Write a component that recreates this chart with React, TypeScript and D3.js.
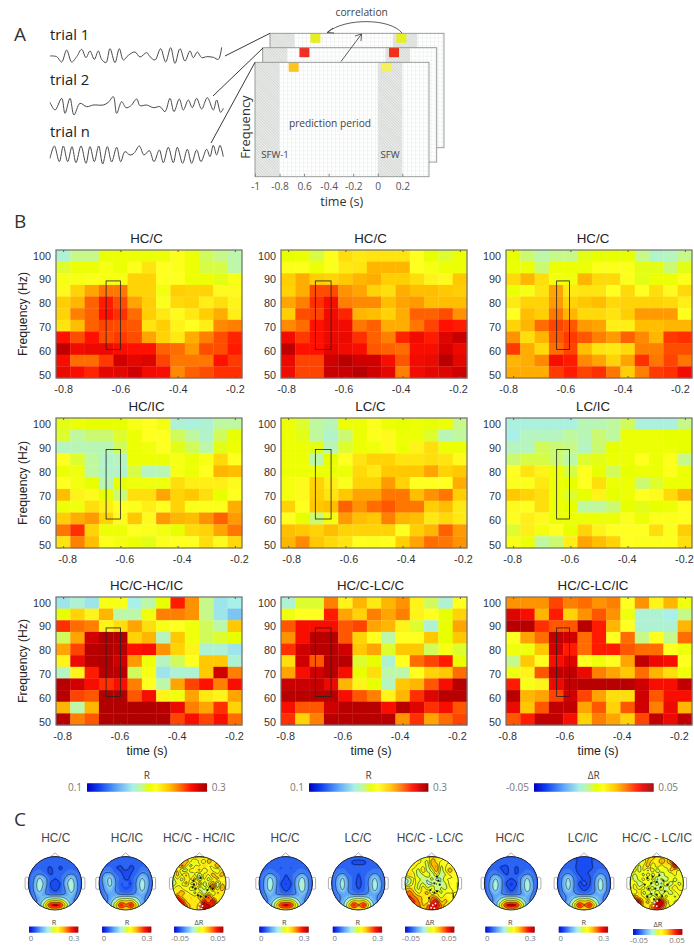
import { useEffect, useRef } from "react"
import * as d3 from "d3"

// time and frequency bins of every heatmap
const timeBins = [-0.8, -0.75, -0.7, -0.65, -0.6, -0.55, -0.5, -0.45, -0.4, -0.35, -0.3, -0.25, -0.2]
const freqBins = [100, 95, 90, 85, 80, 75, 70, 65, 60, 55, 50]
const timeTicks = [-0.8, -0.6, -0.4, -0.2]
const freqTicks = [100, 90, 80, 70, 60, 50]

// R x 1000, top row is 100 Hz
const hcC1 = [
  [180, 192, 192, 206, 206, 206, 206, 206, 214, 206, 196, 192, 188],
  [200, 206, 206, 212, 206, 214, 226, 216, 214, 206, 198, 198, 188],
  [212, 212, 214, 212, 212, 232, 232, 216, 216, 206, 206, 202, 212],
  [218, 232, 244, 254, 254, 232, 232, 210, 234, 232, 232, 218, 218],
  [234, 240, 258, 272, 262, 244, 234, 214, 230, 232, 222, 228, 220],
  [232, 252, 258, 274, 268, 256, 234, 224, 218, 224, 234, 242, 222],
  [226, 238, 258, 264, 262, 260, 226, 234, 220, 216, 222, 250, 252],
  [274, 262, 274, 262, 266, 262, 244, 232, 224, 242, 252, 262, 270],
  [292, 278, 280, 280, 276, 274, 274, 258, 256, 246, 262, 262, 272],
  [276, 256, 256, 266, 288, 282, 284, 264, 254, 254, 254, 274, 266],
  [280, 276, 270, 282, 282, 288, 278, 276, 250, 258, 262, 268, 268],
]
const hcC2 = [
  [204, 206, 198, 214, 228, 224, 226, 226, 226, 216, 204, 200, 206],
  [214, 214, 206, 214, 224, 226, 240, 240, 240, 216, 212, 206, 206],
  [234, 242, 234, 232, 236, 240, 242, 234, 234, 228, 220, 218, 236],
  [232, 242, 262, 262, 248, 244, 232, 228, 242, 238, 238, 236, 234],
  [244, 252, 268, 276, 252, 250, 250, 238, 244, 246, 238, 238, 238],
  [234, 262, 264, 278, 270, 240, 238, 232, 242, 258, 258, 262, 248],
  [250, 256, 274, 280, 278, 254, 258, 242, 242, 254, 264, 274, 272],
  [278, 266, 274, 280, 280, 268, 258, 252, 270, 278, 272, 284, 290],
  [292, 274, 274, 282, 278, 276, 260, 258, 256, 276, 276, 286, 280],
  [280, 264, 264, 288, 294, 288, 288, 276, 260, 278, 280, 294, 282],
  [278, 264, 264, 290, 290, 294, 288, 282, 252, 278, 282, 284, 288],
]
const hcC3 = [
  [204, 194, 188, 192, 192, 202, 204, 204, 204, 192, 182, 184, 192],
  [206, 206, 194, 206, 206, 206, 214, 214, 214, 202, 202, 194, 202],
  [230, 240, 228, 210, 208, 240, 230, 230, 214, 202, 206, 206, 214],
  [206, 212, 226, 244, 224, 226, 226, 216, 230, 216, 228, 218, 230],
  [224, 232, 232, 246, 232, 236, 238, 230, 232, 232, 232, 230, 222],
  [216, 238, 234, 254, 240, 230, 230, 226, 234, 246, 246, 246, 214],
  [232, 240, 256, 264, 260, 246, 244, 222, 222, 238, 238, 240, 240],
  [248, 228, 240, 260, 266, 260, 252, 246, 258, 250, 240, 266, 268],
  [266, 242, 230, 256, 264, 238, 226, 224, 230, 252, 252, 262, 262],
  [240, 242, 250, 276, 272, 250, 244, 232, 244, 268, 254, 264, 254],
  [242, 242, 242, 266, 272, 264, 268, 254, 234, 252, 266, 268, 278],
]
const hcIc = [
  [202, 206, 204, 204, 204, 212, 216, 210, 180, 178, 180, 190, 190],
  [200, 190, 194, 194, 200, 206, 216, 216, 196, 190, 182, 196, 204],
  [184, 186, 186, 186, 196, 206, 208, 216, 202, 196, 188, 202, 206],
  [216, 200, 190, 182, 184, 206, 206, 206, 212, 206, 212, 230, 216],
  [206, 208, 190, 182, 182, 198, 184, 186, 212, 206, 216, 240, 238],
  [216, 210, 204, 186, 204, 208, 208, 208, 228, 222, 222, 222, 218],
  [238, 220, 218, 204, 194, 228, 228, 244, 232, 236, 228, 204, 216],
  [206, 208, 228, 222, 216, 214, 222, 216, 232, 214, 214, 214, 242],
  [234, 242, 246, 232, 218, 236, 218, 246, 240, 238, 248, 258, 246],
  [254, 268, 232, 206, 206, 216, 214, 210, 204, 230, 232, 244, 254],
  [226, 252, 238, 214, 210, 206, 202, 214, 216, 216, 228, 218, 230],
]
const lcC = [
  [206, 200, 190, 186, 206, 206, 214, 206, 204, 206, 204, 206, 192],
  [206, 202, 190, 182, 194, 206, 214, 218, 206, 206, 200, 186, 190],
  [206, 206, 202, 186, 200, 206, 208, 218, 206, 220, 228, 206, 206],
  [206, 206, 188, 204, 216, 226, 232, 232, 226, 226, 228, 226, 218],
  [206, 206, 206, 206, 206, 230, 224, 236, 236, 236, 244, 232, 236],
  [210, 218, 232, 222, 214, 232, 232, 246, 232, 216, 216, 216, 242],
  [210, 218, 234, 226, 236, 244, 244, 254, 254, 238, 248, 254, 234],
  [232, 216, 236, 238, 258, 248, 256, 260, 254, 254, 234, 238, 224],
  [216, 204, 194, 210, 246, 238, 236, 252, 240, 238, 224, 230, 224],
  [238, 236, 232, 238, 232, 232, 232, 232, 216, 234, 240, 258, 246],
  [240, 250, 236, 230, 226, 216, 214, 216, 234, 244, 256, 254, 248],
]
const lcIc = [
  [178, 178, 178, 178, 178, 186, 186, 190, 196, 178, 178, 178, 192],
  [176, 184, 184, 184, 190, 186, 194, 190, 206, 206, 206, 204, 204],
  [184, 184, 196, 194, 192, 184, 194, 204, 206, 206, 206, 206, 204],
  [194, 198, 198, 194, 188, 200, 202, 206, 206, 216, 206, 214, 192],
  [216, 226, 220, 206, 198, 216, 204, 196, 204, 206, 206, 214, 206],
  [214, 214, 224, 206, 204, 216, 228, 206, 206, 194, 200, 206, 206],
  [236, 232, 228, 206, 200, 204, 220, 204, 206, 216, 218, 230, 240],
  [218, 216, 228, 206, 204, 190, 190, 194, 204, 202, 204, 206, 216],
  [214, 222, 218, 206, 206, 206, 206, 206, 214, 206, 214, 214, 216],
  [200, 222, 210, 216, 204, 232, 220, 216, 216, 216, 228, 214, 234],
  [212, 206, 190, 194, 222, 244, 238, 232, 216, 214, 214, 214, 228],
]
// delta R x 1000
const diffHcIc = [
  [-14, -10, -14, 6, 6, -12, -6, 2, 36, 24, -4, -14, -12],
  [2, 16, 10, 20, -6, -6, 4, 26, 26, 24, -4, -14, -20],
  [34, 28, 26, 10, 14, 22, 14, 6, 8, 4, -2, -6, 18],
  [-2, 22, 44, 48, 48, 16, 20, -8, 18, 4, -2, 0, 2],
  [22, 32, 47, 48, 47, 37, 38, 24, 16, 10, -10, -10, -14],
  [10, 40, 47, 48, 44, 23, 4, -8, -2, 8, 18, 18, -10],
  [-8, 10, 36, 47, 47, -2, 6, -14, -10, -10, 18, 44, 26],
  [47, 44, 38, 34, 38, 26, 8, -6, 22, 32, 37, 26, 38],
  [47, 32, 30, 48, 48, 30, 38, 10, 4, 22, 12, 10, 22],
  [20, -6, 20, 48, 48, 48, 48, 47, 40, 26, 22, 34, 16],
  [47, 26, 30, 48, 48, 48, 48, 48, 32, 38, 32, 38, 28],
]
const diffLcC = [
  [-10, 0, 0, 26, 10, 20, 12, 20, 24, 10, -2, -10, 8],
  [4, 8, 8, 36, 22, 16, 26, 22, 26, 10, 8, 2, 16],
  [30, 38, 38, 38, 30, 32, 22, 20, 10, 0, -10, 2, 22],
  [24, 38, 47, 47, 30, 16, 8, -6, 8, 8, 18, 2, 18],
  [34, 44, 47, 47, 44, 18, 22, 0, 18, 18, -2, 6, 0],
  [14, 44, 30, 47, 47, 0, 2, -10, 8, 28, 32, 36, 2],
  [22, 38, 44, 47, 38, 2, 14, -6, -6, 8, 16, 18, 28],
  [45, 45, 45, 40, 20, 10, 2, -8, 18, 20, 30, 38, 47],
  [47, 47, 47, 47, 38, 30, 26, 10, 20, 34, 42, 47, 47],
  [38, 30, 30, 44, 47, 47, 47, 38, 47, 42, 34, 38, 30],
  [34, 16, 26, 47, 47, 47, 47, 47, 24, 34, 22, 28, 32],
]
const diffLcIc = [
  [24, 24, 24, 32, 26, 28, 24, 26, 8, 24, 10, 20, 4],
  [42, 38, 20, 36, 16, 24, 30, 24, 4, -10, -10, -12, -4],
  [47, 47, 34, 30, 30, 47, 36, 20, 8, -10, -10, -10, 20],
  [8, 22, 28, 46, 44, 28, 36, 8, 28, -4, 8, -4, 28],
  [4, 4, 18, 44, 36, 28, 36, 36, 30, 28, 28, 8, 4],
  [-4, 18, 8, 38, 42, 8, 4, 8, 22, 46, 40, 38, 8],
  [4, 10, 30, 46, 46, 40, 26, 22, 18, 28, 20, 14, 4],
  [36, 6, 10, 40, 46, 47, 47, 47, 47, 44, 38, 38, 46],
  [47, 20, 22, 32, 44, 32, 22, 14, 14, 44, 30, 38, 38],
  [40, 18, 30, 46, 46, 22, 30, 16, 30, 44, 26, 40, 20],
  [30, 36, 46, 46, 38, 16, 26, 22, 16, 32, 46, 40, 46],
]

// scalp maps, R x 1000, coarse grid over the head box
const topoA1 = [
  [44, 44, 44, 44, 44, 44, 44, 44, 44, 44, 44],
  [44, 44, 44, 46, 48, 48, 48, 46, 44, 44, 44],
  [44, 46, 48, 44, 34, 46, 32, 48, 48, 46, 44],
  [44, 52, 56, 48, 32, 44, 44, 52, 56, 52, 44],
  [44, 62, 110, 78, 48, 38, 48, 72, 110, 62, 44],
  [40, 70, 132, 90, 34, 28, 36, 90, 136, 70, 40],
  [36, 70, 125, 72, 42, 30, 44, 70, 130, 70, 36],
  [40, 60, 90, 66, 52, 48, 52, 66, 95, 60, 40],
  [44, 56, 72, 105, 150, 160, 150, 105, 72, 56, 44],
  [46, 56, 80, 170, 285, 295, 285, 170, 80, 56, 46],
  [48, 56, 66, 115, 170, 180, 170, 115, 66, 56, 48],
]
const topoA2 = [
  [44, 44, 44, 44, 44, 44, 44, 44, 44, 44, 44],
  [44, 44, 46, 46, 44, 46, 44, 46, 46, 44, 44],
  [44, 48, 52, 38, 34, 46, 32, 44, 52, 48, 44],
  [46, 66, 66, 48, 40, 30, 38, 48, 66, 62, 46],
  [46, 85, 112, 62, 46, 34, 42, 62, 108, 72, 46],
  [44, 78, 118, 68, 36, 46, 34, 72, 128, 78, 44],
  [40, 70, 95, 62, 42, 36, 42, 66, 122, 70, 40],
  [44, 60, 72, 72, 56, 52, 56, 72, 80, 60, 44],
  [46, 56, 72, 112, 160, 165, 160, 112, 72, 56, 46],
  [48, 56, 85, 175, 295, 230, 295, 175, 85, 56, 48],
  [48, 56, 72, 125, 180, 170, 180, 125, 72, 56, 48],
]
const topoB1 = [
  [44, 44, 44, 44, 44, 44, 44, 44, 44, 44, 44],
  [44, 44, 46, 48, 48, 46, 48, 48, 46, 44, 44],
  [44, 46, 48, 46, 36, 46, 36, 48, 48, 46, 44],
  [44, 52, 62, 52, 46, 40, 48, 52, 62, 52, 44],
  [44, 68, 118, 72, 48, 32, 46, 72, 118, 68, 44],
  [42, 72, 132, 78, 34, 28, 34, 85, 136, 72, 42],
  [38, 72, 122, 68, 44, 30, 44, 72, 130, 72, 38],
  [42, 60, 85, 66, 52, 46, 52, 66, 90, 60, 42],
  [44, 56, 72, 102, 150, 160, 150, 102, 72, 56, 44],
  [46, 56, 80, 165, 280, 295, 280, 165, 80, 56, 46],
  [48, 56, 66, 110, 165, 175, 165, 110, 66, 56, 48],
]
const topoB2 = [
  [46, 46, 46, 46, 46, 46, 46, 46, 46, 46, 46],
  [46, 46, 46, 44, 34, 32, 34, 44, 46, 46, 46],
  [46, 48, 48, 46, 44, 46, 44, 46, 48, 48, 46],
  [46, 56, 62, 48, 46, 38, 46, 52, 62, 56, 46],
  [44, 72, 110, 62, 46, 34, 46, 68, 110, 66, 44],
  [42, 78, 122, 68, 44, 32, 44, 72, 128, 78, 42],
  [42, 72, 112, 62, 46, 36, 46, 66, 122, 72, 42],
  [44, 60, 72, 72, 56, 52, 56, 72, 72, 60, 44],
  [46, 56, 72, 112, 155, 165, 155, 112, 72, 56, 46],
  [48, 56, 85, 170, 295, 225, 295, 170, 85, 56, 48],
  [48, 56, 72, 118, 175, 165, 175, 118, 72, 56, 48],
]
const topoC1 = [
  [40, 40, 40, 40, 40, 40, 40, 40, 40, 40, 40],
  [40, 40, 44, 46, 44, 46, 46, 46, 44, 40, 40],
  [40, 46, 48, 36, 32, 46, 34, 48, 48, 46, 40],
  [40, 52, 56, 46, 32, 46, 34, 48, 56, 52, 40],
  [40, 62, 105, 72, 46, 38, 46, 72, 110, 62, 40],
  [38, 72, 128, 78, 34, 26, 34, 78, 132, 72, 38],
  [36, 72, 122, 72, 46, 30, 46, 72, 128, 72, 36],
  [40, 60, 78, 66, 52, 46, 52, 66, 85, 60, 40],
  [44, 56, 72, 108, 155, 165, 155, 108, 72, 56, 44],
  [46, 56, 78, 175, 290, 295, 290, 175, 78, 56, 46],
  [48, 56, 66, 118, 175, 185, 175, 118, 66, 56, 48],
]
const topoC2 = [
  [38, 38, 38, 38, 38, 38, 38, 38, 38, 38, 38],
  [38, 40, 44, 44, 34, 28, 34, 44, 44, 40, 38],
  [38, 46, 48, 44, 28, 42, 28, 46, 48, 46, 38],
  [40, 56, 62, 48, 34, 28, 44, 48, 62, 56, 40],
  [40, 72, 110, 62, 44, 34, 32, 62, 110, 66, 40],
  [38, 78, 122, 68, 32, 44, 32, 68, 128, 72, 38],
  [36, 72, 112, 62, 42, 30, 42, 62, 122, 72, 36],
  [40, 60, 72, 72, 56, 52, 56, 72, 78, 60, 40],
  [44, 56, 72, 112, 155, 165, 155, 112, 72, 56, 44],
  [46, 56, 85, 170, 295, 225, 295, 170, 85, 56, 46],
  [48, 56, 72, 118, 175, 165, 175, 118, 72, 56, 48],
]
const topoDiffA = [
  [8, 8, 8, 8, 8, 20, 12, 20, 8, 8, 8, 8, 8],
  [8, 8, 8, 24, 10, -6, 14, -4, 26, 12, 8, 8, 8],
  [8, 8, 34, 10, -8, 12, 4, 22, 6, 8, 30, 8, 8],
  [8, 18, -4, -9, 18, 8, 24, -6, 14, 4, -6, 14, 8],
  [4, 22, 8, 22, -4, 10, -14, 16, 6, 26, 10, 24, 8],
  [-6, 10, -9, 14, 8, 26, -18, 14, -9, 8, 22, 4, 12],
  [-10, 2, 8, 24, -6, -5, 34, -12, 12, 30, -16, 18, 8],
  [6, 16, 6, -4, 14, 22, -14, 8, -9, 38, -6, 30, 8],
  [10, 8, 26, 12, 4, -8, 16, -16, 10, -6, 22, 8, 6],
  [8, 38, 12, 8, 18, 10, 22, 14, 40, 12, 8, 14, 8],
  [8, 46, 40, 14, 10, 16, 8, 44, 20, 48, 10, 10, 8],
  [8, 8, 44, 28, 14, 10, 24, 48, 46, 34, 8, 8, 8],
  [8, 8, 8, 30, 10, 12, 20, 40, 30, 8, 8, 8, 8],
]
const topoDiffB = [
  [8, 8, 8, 8, 8, 6, 10, 18, 8, 8, 8, 8, 8],
  [8, 8, 8, 14, 2, -4, 26, 10, 8, 8, 8, 8, 8],
  [8, 8, 14, 2, 8, -6, 18, 28, -4, 8, 8, 8, 8],
  [8, 10, 4, -5, 22, -9, 4, 24, -6, 8, 26, 8, 8],
  [4, 20, 10, -8, -2, 12, -12, 12, -8, -2, 8, 8, 8],
  [-12, -6, 10, 4, -6, -10, 8, -16, -9, 10, 8, 8, 8],
  [-14, -3, 14, -4, 2, -10, -14, 6, -10, -2, 12, 8, 8],
  [14, 18, 8, -6, 18, -4, 16, -14, 4, -5, 8, 8, 8],
  [22, 30, 16, 4, 12, 24, -8, 10, -4, 8, 8, 8, 8],
  [30, 34, 26, 20, 14, 8, 26, 16, 4, 12, 8, 8, 8],
  [8, 38, 34, 24, 12, 10, 32, 44, 12, 22, 8, 8, 8],
  [8, 8, 28, 30, 14, 24, 46, 40, 30, 8, 8, 8, 8],
  [8, 8, 8, 26, 18, 26, 40, 36, 14, 8, 8, 8, 8],
]
const topoDiffC = [
  [8, 8, 8, 8, 12, 20, 14, 8, 18, 8, 8, 8, 8],
  [8, 8, 8, -4, 22, 14, 6, 30, 10, 30, 44, 8, 8],
  [8, 8, -4, 10, 26, -8, 20, -2, 18, 4, 46, 30, 8],
  [8, 18, -9, 14, -10, 24, -14, 12, -6, 24, 8, 6, 8],
  [6, -6, 10, -9, 22, -14, 16, -16, 10, -6, 16, -4, 8],
  [12, -9, 4, 16, -10, 20, -18, 8, -14, 14, -9, 10, 8],
  [4, 10, -10, -3, 14, -14, 12, -18, 18, -12, 8, -6, 6],
  [-6, 16, 2, 18, -12, 10, -16, 14, -16, 8, 16, 4, 8],
  [10, -6, 22, -11, 14, -14, 14, -14, 10, -10, 6, 12, 8],
  [12, 30, 8, 12, -12, 8, -10, 20, -9, 14, -5, 8, 8],
  [8, 44, 46, 10, 26, -8, 40, 46, 22, -4, 12, 10, 8],
  [8, 8, 34, 12, 6, 30, 48, 42, 14, 8, 6, 8, 8],
  [8, 8, 8, 10, 16, 24, 34, 20, 8, 8, 8, 8, 8],
]
// pale marks over the strongest sites, head coordinates -1..1
const paleSitesA = [[0.02, 0.78], [0.12, 0.85], [-0.02, 0.92], [0.08, 0.95]]
const paleSitesB = [[-0.1, 0.76], [0.04, 0.82], [0.14, 0.76], [-0.02, 0.92], [0.1, 0.93]]
const paleSitesC = [[-0.2, 0.66], [-0.08, 0.72], [0.02, 0.66], [-0.12, 0.84], [0, 0.86]]
// dark clusters of dense contour lines, same coordinates
const darkSitesA = [[-0.22, -0.1], [-0.2, 0.05], [-0.25, 0.15], [0.05, -0.2], [0.4, 0.12], [0.5, 0.2], [0.3, 0.25], [-0.05, 0.45], [0.05, 0.5], [0.25, 0.5], [-0.15, 0.2]]
const darkSitesB = [[0.2, -0.25], [0.25, -0.1], [0.1, 0], [0.3, 0.05], [-0.05, 0.25], [0.1, 0.35], [0.2, 0.3], [-0.1, 0.55]]
const darkSitesC = [[-0.35, -0.2], [-0.15, -0.25], [0.1, -0.3], [-0.45, 0.05], [-0.2, 0], [0, -0.05], [0.25, -0.1], [0.4, 0.05], [-0.3, 0.2], [-0.05, 0.2], [0.15, 0.15], [0.3, 0.3], [-0.2, 0.4], [0, 0.42], [0.2, 0.48], [-0.35, 0.5], [-0.1, 0.6], [0.1, 0.62]]

// EEG traces of panel A: position along the trace and amplitude
const trial1Pos = [150, 170, 185, 200, 215, 230, 245, 258, 270, 283, 295, 305, 318, 330, 345, 358, 370, 385, 405, 420, 440, 450, 465, 482, 497, 512, 525, 540, 555, 570, 580, 592, 605, 620, 640, 655, 665]
const trial1Amp = [0, -2, -18, 18, -18, -2, 20, -5, 15, -10, 15, -10, -20, 22, -20, 22, -12, 2, 12, -3, 10, -2, -12, 22, -18, 25, -22, 22, -15, 15, -5, 12, -5, -2, -4, -10, 26]
const trial2Pos = [150, 165, 185, 195, 210, 222, 240, 260, 280, 310, 325, 340, 350, 365, 378, 392, 410, 420, 440, 460, 480, 495, 510, 522, 538, 550, 565, 577, 590, 605, 622, 640, 650, 662, 670]
const trial2Amp = [8, -15, 20, -25, 20, -30, 5, -5, 0, 0, 8, 25, -25, 10, -8, -3, 18, -2, 0, -8, -5, -20, 20, -20, 18, -15, 15, -8, 20, -12, 22, -15, 15, -22, -10]
const trialNPos = [150, 163, 178, 190, 203, 216, 228, 243, 258, 270, 283, 296, 308, 322, 335, 350, 362, 375, 390, 402, 418, 432, 448, 462, 478, 490, 505, 520, 532, 548, 562, 575, 590, 603, 620, 630, 640, 650, 660, 670]
const trialNAmp = [-15, 22, -25, 22, -25, 20, -28, 22, -30, 20, -25, 22, -32, 20, -26, 18, -25, 5, -5, 0, 22, -5, 8, -25, 10, -28, 18, -28, 18, -30, 12, -30, 10, -25, 12, -10, 24, -5, 24, -10]

const schemaTicks = [-1, -0.8, -0.6, -0.4, -0.2, 0, 0.2]
const schemaTickLabels = ["-1", "-0.8", "0.6", "-0.4", "-0.2", "0", "0.2"]
const bandWindows = [[-1, -0.8], [0, 0.2]]
const squareTimes = [[-0.63, 0.07], [-0.66, 0.07], [-0.685, 0.07]]
const squareColors = [["#e4ee20", "#e4f020"], ["#f23022", "#f23018"], ["#fcc420", "#f6f060"]]

const mapStops = [0, 0.1, 0.25, 0.38, 0.45, 0.52, 0.58, 0.68, 0.76, 0.87, 0.94, 1]
const mapColors = ["#0000c0", "#1040f0", "#60a8f8", "#a8f0e8", "#c0f8a0", "#e8ff00", "#ffff20", "#ffc800", "#ff8000", "#ff1000", "#d00000", "#a00000"]
const jet = d3.scaleLinear<string>().domain(mapStops).range(mapColors).clamp(true)

const W = 694
const H = 945
const heatColumns = [{ left: 56, right: 242 }, { left: 281, right: 467 }, { left: 506, right: 692 }]
const heatRows = [{ top: 250, bottom: 378 }, { top: 418, bottom: 548 }, { top: 597, bottom: 725 }]
const titleX = [146.5, 370.5, 593]
const timeLabelX = [147, 371, 598]

const heatPanels = [
  { title: "HC/C", values: hcC1, win: [-0.65, -0.6], tickShift: 0, domain: [100, 300] },
  { title: "HC/C", values: hcC2, win: [-0.705, -0.65], tickShift: -2, domain: [100, 300] },
  { title: "HC/C", values: hcC3, win: [-0.648, -0.603], tickShift: -5, domain: [100, 300] },
  { title: "HC/IC", values: hcIc, win: [-0.65, -0.6], tickShift: 4, domain: [100, 300] },
  { title: "LC/C", values: lcC, win: [-0.705, -0.65], tickShift: 3, domain: [100, 300] },
  { title: "LC/IC", values: lcIc, win: [-0.648, -0.603], tickShift: -1, domain: [100, 300] },
  { title: "HC/C-HC/IC", values: diffHcIc, win: [-0.65, -0.6], tickShift: -1, domain: [-50, 50] },
  { title: "HC/C-LC/C", values: diffLcC, win: [-0.705, -0.65], tickShift: -3, domain: [-50, 50] },
  { title: "HC/C-LC/IC", values: diffLcIc, win: [-0.648, -0.603], tickShift: -6, domain: [-50, 50] },
]

const colorBars = [
  { x0: 87, x1: 206.7, label: "R", lo: "0.1", hi: "0.3" },
  { x0: 309, x1: 428, label: "R", lo: "0.1", hi: "0.3" },
  { x0: 534, x1: 653.3, label: "\u0394R", lo: "-0.05", hi: "0.05" },
]

const none: number[][] = []
const scalpMaps = [
  { title: "HC/C", grid: topoA1, cx: 55, titleX: 55.7, barX: 29, unit: "R", pale: none, dark: none },
  { title: "HC/IC", grid: topoA2, cx: 125.7, titleX: 127, barX: 102, unit: "R", pale: none, dark: none },
  { title: "HC/C - HC/IC", grid: topoDiffA, cx: 199.3, titleX: 199, barX: 174, unit: "dR", pale: paleSitesA, dark: darkSitesA },
  { title: "HC/C", grid: topoB1, cx: 285.7, titleX: 285, barX: 259.3, unit: "R", pale: none, dark: none },
  { title: "LC/C", grid: topoB2, cx: 358.3, titleX: 358, barX: 332.7, unit: "R", pale: none, dark: none },
  { title: "HC/C - LC/C", grid: topoDiffB, cx: 431.7, titleX: 430, barX: 405, unit: "dR", pale: paleSitesB, dark: darkSitesB },
  { title: "HC/C", grid: topoC1, cx: 511, titleX: 510, barX: 485.3, unit: "R", pale: none, dark: none },
  { title: "LC/IC", grid: topoC2, cx: 584, titleX: 583, barX: 558.7, unit: "R", pale: none, dark: none },
  { title: "HC/C - LC/IC", grid: topoDiffC, cx: 656.7, titleX: 657, barX: 633, unit: "dR", pale: paleSitesC, dark: darkSitesC },
]

const sans = "'Liberation Sans', Arial, sans-serif"
const open = "'Open Sans', 'Noto Sans', sans-serif"

// bilinear resample of a coarse grid, then a little blur so contours stay round
function resample(grid: number[][], n: number, blur: number) {
  const m = grid.length
  const out = new Array(n * n)
  for (let j = 0; j < n; j++) {
    const gy = (j / (n - 1)) * (m - 1)
    const y0 = Math.min(Math.floor(gy), m - 2)
    for (let i = 0; i < n; i++) {
      const gx = (i / (n - 1)) * (m - 1)
      const x0 = Math.min(Math.floor(gx), m - 2)
      const a = gx - x0
      const b = gy - y0
      out[j * n + i] =
        grid[y0][x0] * (1 - a) * (1 - b) + grid[y0][x0 + 1] * a * (1 - b) + grid[y0 + 1][x0] * (1 - a) * b + grid[y0 + 1][x0 + 1] * a * b
    }
  }
  d3.blur2({ data: out, width: n, height: n }, blur)
  return out
}

export default function App() {
  const svgRef = useRef<SVGSVGElement>(null)

  useEffect(() => {
    if (!svgRef.current) return
    const svg = d3.select(svgRef.current)
    svg.selectAll("*").remove()
    svg.append("rect").attr("width", W).attr("height", H).attr("fill", "white")

    const defs = svg.append("defs")
    const grid = defs.append("pattern").attr("id", "fine").attr("width", 4).attr("height", 4).attr("patternUnits", "userSpaceOnUse")
    grid.append("path").attr("d", "M4 0H0V4").attr("fill", "none").attr("stroke", "#d4dad6").attr("stroke-width", 0.5)
    const hatch = defs.append("pattern").attr("id", "hatch").attr("width", 2).attr("height", 2).attr("patternUnits", "userSpaceOnUse").attr("patternTransform", "rotate(45)")
    hatch.append("rect").attr("width", 2).attr("height", 2).attr("fill", "#eceeec")
    hatch.append("path").attr("d", "M0 0H2").attr("stroke", "#bcc2be").attr("stroke-width", 1)

    const letter = (s: string, x: number, y: number) =>
      svg.append("text").attr("x", x).attr("y", y).attr("font-family", open).attr("font-size", 19).attr("fill", "#333").text(s)
    letter("A", 14, 41)
    letter("B", 14, 228)
    letter("C", 14, 826)

    // Panel A: traces
    const waves = [
      { label: "trial 1", pos: trial1Pos, amp: trial1Amp, cy: 56, ly: 40 },
      { label: "trial 2", pos: trial2Pos, amp: trial2Amp, cy: 105, ly: 85 },
      { label: "trial n", pos: trialNPos, amp: trialNAmp, cy: 153.3, ly: 137 },
    ]
    const waveX = d3.scaleLinear().domain([150, 670]).range([50, 223.3])
    waves.forEach((w) => {
      const waveY = d3.scaleLinear().domain([-30, 30]).range([w.cy + 10, w.cy - 10])
      const line = d3
        .line<number>()
        .x((_, i) => waveX(w.pos[i]))
        .y((d) => waveY(d))
        .curve(d3.curveCatmullRom)
      svg.append("path").attr("d", line(w.amp)).attr("fill", "none").attr("stroke", "#4a4a4a").attr("stroke-width", 1)
      svg.append("text").attr("x", 50).attr("y", w.ly).attr("font-family", open).attr("font-size", 14.8).attr("fill", "#222").text(w.label)
    })

    // Panel A: stacked time-frequency sheets, back one first
    const sheetX = d3.scaleLinear().domain([-1, 0.2]).range([0, 147.3])
    const sheets = [{ x: 270, y: 33.3 }, { x: 262.7, y: 47.7 }, { x: 255, y: 62.3 }]
    const sheetW = 174
    const sheetH = 114.4
    sheets.forEach((s, i) => {
      const g = svg.append("g").attr("transform", `translate(${s.x},${s.y})`)
      g.append("rect").attr("width", sheetW).attr("height", sheetH).attr("fill", "white")
      g.append("rect").attr("width", sheetW).attr("height", sheetH).attr("fill", "url(#fine)")
      bandWindows.forEach((b) => {
        g.append("rect").attr("x", sheetX(b[0])).attr("width", sheetX(b[1]) - sheetX(b[0])).attr("height", sheetH).attr("fill", "url(#hatch)")
      })
      squareTimes[i].forEach((t, k) => {
        g.append("rect").attr("x", sheetX(t) - 5).attr("width", 10).attr("height", 9.5).attr("fill", squareColors[i][k])
      })
      g.append("rect").attr("width", sheetW).attr("height", sheetH).attr("fill", "none").attr("stroke", "#8f9490").attr("stroke-width", 0.9)
    })
    const front = svg.append("g").attr("transform", "translate(255,62.3)")
    const schemaAxis = d3.axisBottom(sheetX).tickValues(schemaTicks).tickSize(-3).tickPadding(6).tickFormat((_, i) => schemaTickLabels[i])
    const schemaG = front.append("g").attr("transform", `translate(0,${sheetH})`).call(schemaAxis)
    schemaG.select(".domain").remove()
    schemaG.selectAll(".tick line").attr("stroke", "#888")
    schemaG.selectAll("text").attr("font-family", open).attr("font-size", 10.2).attr("fill", "#555")
    const frontText = (s: string, x: number, y: number, size: number, fill = "#444") =>
      svg.append("text").attr("x", x).attr("y", y).attr("text-anchor", "middle").attr("dominant-baseline", "middle").attr("font-family", open).attr("font-size", size).attr("fill", fill).text(s)
    frontText("prediction period", 330, 124, 10.2)
    frontText("SFW-1", 275, 155, 9.6)
    frontText("SFW", 390, 155, 9.6)
    frontText("correlation", 361.7, 13.3, 10.3)
    frontText("time (s)", 341.7, 202.7, 12.6, "#333")
    frontText("Frequency", 247, 127, 13, "#333").attr("transform", "rotate(-90 247 127)")

    const connect = [[[225, 56], [270, 33.3]], [[213, 96], [263, 48]], [[211, 143], [255, 62.3]]]
    connect.forEach((c) => {
      svg.append("path").attr("d", d3.line()(c as [number, number][])).attr("stroke", "#222").attr("stroke-width", 0.9)
    })
    // correlation arrows
    svg.append("path").attr("d", "M402 33C390 18 345 18 328 32").attr("fill", "none").attr("stroke", "#333").attr("stroke-width", 0.8)
    svg.append("path").attr("d", "M333 28L327 32.5L334 33").attr("fill", "none").attr("stroke", "#333").attr("stroke-width", 0.8)
    svg.append("path").attr("d", "M341 61.5L361.5 34M355 36L361.5 34L361 41").attr("fill", "none").attr("stroke", "#333").attr("stroke-width", 0.8)

    // Panel B: heatmaps
    heatPanels.forEach((p, idx) => {
      const col = heatColumns[idx % 3]
      const row = heatRows[Math.floor(idx / 3)]
      const xBand = d3.scaleBand<number>().domain(timeBins).range([col.left, col.right])
      const yBand = d3.scaleBand<number>().domain(freqBins).range([row.top, row.bottom])
      const xTime = d3.scaleLinear().domain([-0.825, -0.175]).range([col.left, col.right])
      const yFreq = d3.scaleLinear().domain([48.6, 102.4]).range([row.bottom, row.top])
      const t = d3.scaleLinear().domain(p.domain).range([0, 1])
      const g = svg.append("g")

      p.values.forEach((vals, r) => {
        g.selectAll(null)
          .data(vals)
          .enter()
          .append("rect")
          .attr("x", (_, c) => xBand(timeBins[c]) as number)
          .attr("y", yBand(freqBins[r]) as number)
          .attr("width", xBand.bandwidth() + 0.3)
          .attr("height", yBand.bandwidth() + 0.3)
          .attr("fill", (d) => jet(t(d)))
      })

      // inward tick marks on the frame
      const marks = g.append("g").attr("transform", `translate(0,${row.bottom})`).call(d3.axisBottom(xTime).tickValues(timeTicks).tickSize(-2).tickFormat(() => ""))
      const marksTop = g.append("g").attr("transform", `translate(0,${row.top})`).call(d3.axisTop(xTime).tickValues(timeTicks).tickSize(-2).tickFormat(() => ""))
      ;[marks, marksTop].forEach((a) => {
        a.select(".domain").remove()
        a.selectAll("line").attr("stroke", "#555")
      })
      g.append("rect")
        .attr("x", col.left)
        .attr("y", row.top)
        .attr("width", col.right - col.left)
        .attr("height", row.bottom - row.top)
        .attr("fill", "none")
        .attr("stroke", "#6e6e6e")
        .attr("stroke-width", 1.2)

      const xLabels = g
        .append("g")
        .attr("transform", `translate(${p.tickShift},${row.bottom})`)
        .call(d3.axisBottom(xTime).tickValues(timeTicks).tickSize(0).tickPadding(7).tickFormat((d) => (+d).toFixed(1)))
      const yLabels = g
        .append("g")
        .attr("transform", `translate(${col.left - 1},0)`)
        .call(d3.axisLeft(yFreq).tickValues(freqTicks).tickSize(0).tickPadding(4))
      ;[xLabels, yLabels].forEach((a) => {
        a.select(".domain").remove()
        a.selectAll("text").attr("font-family", sans).attr("font-size", 10.8).attr("fill", "#333")
      })

      // prediction window box
      g.append("rect")
        .attr("x", xTime(p.win[0]))
        .attr("y", yFreq(89.4))
        .attr("width", xTime(p.win[1]) - xTime(p.win[0]))
        .attr("height", yFreq(60.6) - yFreq(89.4))
        .attr("fill", "none")
        .attr("stroke", "#222")
        .attr("stroke-width", 0.8)

      g.append("text")
        .attr("x", titleX[idx % 3])
        .attr("y", row.top - 11)
        .attr("text-anchor", "middle")
        .attr("dominant-baseline", "middle")
        .attr("font-family", sans)
        .attr("font-size", 13.3)
        .attr("fill", "#222")
        .text(p.title)

      if (idx % 3 === 0) {
        const cy = (row.top + row.bottom) / 2
        g.append("text")
          .attr("transform", `translate(24,${cy}) rotate(-90)`)
          .attr("text-anchor", "middle")
          .attr("dominant-baseline", "middle")
          .attr("font-family", sans)
          .attr("font-size", 12.2)
          .attr("fill", "#222")
          .text("Frequency (Hz)")
      }
      if (idx >= 6) {
        g.append("text")
          .attr("x", timeLabelX[idx % 3])
          .attr("y", row.bottom + 27)
          .attr("text-anchor", "middle")
          .attr("dominant-baseline", "middle")
          .attr("font-family", sans)
          .attr("font-size", 12.3)
          .attr("fill", "#222")
          .text("time (s)")
      }
    })

    // colour bar strip
    const strip = (x0: number, x1: number, y: number, h: number) => {
      const bx = d3.scaleLinear().domain([0, 1]).range([x0, x1])
      const n = 120
      svg
        .append("g")
        .selectAll("rect")
        .data(d3.range(n))
        .enter()
        .append("rect")
        .attr("x", (d) => bx(d / n))
        .attr("y", y)
        .attr("width", (x1 - x0) / n + 0.4)
        .attr("height", h)
        .attr("fill", (d) => jet((d + 0.5) / n))
    }
    colorBars.forEach((b) => {
      strip(b.x0, b.x1, 783.3, 8.4)
      const txt = (s: string, x: number, y: number, anchor: string, fill: string) =>
        svg.append("text").attr("x", x).attr("y", y).attr("text-anchor", anchor).attr("dominant-baseline", "middle").attr("font-family", open).attr("font-size", 10).attr("fill", fill).text(s)
      txt(b.lo, b.x0 - 5, 788, "end", "#777")
      txt(b.hi, b.x1 + 5, 788, "start", "#777")
      txt(b.label, (b.x0 + b.x1) / 2, 776.5, "middle", "#444")
    })

    // Panel C: scalp maps
    const r = 26.7
    const cy = 883.3
    const n = 72
    scalpMaps.forEach((m, idx) => {
      const isDiff = m.unit === "dR"
      const g = svg.append("g")
      g.append("text").attr("x", m.titleX).attr("y", 838.7).attr("text-anchor", "middle").attr("dominant-baseline", "middle").attr("font-family", sans).attr("font-size", 11.9).attr("fill", "#444").text(m.title)

      // ears and nose
      ;[-1, 1].forEach((s) => {
        g.append("rect")
          .attr("x", s < 0 ? m.cx - r - 3.2 : m.cx + r - 0.6)
          .attr("y", cy - 6)
          .attr("width", 3.8)
          .attr("height", 12)
          .attr("rx", 1.5)
          .attr("fill", "white")
          .attr("stroke", "#777")
          .attr("stroke-width", 0.6)
      })
      g.append("path")
        .attr("d", d3.line()([[m.cx - 5, cy - r + 0.8], [m.cx, cy - r - 3.8], [m.cx + 5, cy - r + 0.8]]))
        .attr("fill", "white")
        .attr("stroke", "#777")
        .attr("stroke-width", 0.6)

      const clipId = `head${idx}`
      defs.append("clipPath").attr("id", clipId).append("circle").attr("cx", m.cx).attr("cy", cy).attr("r", r)
      const clip = g.append("g").attr("clip-path", `url(#${clipId})`)
      const k = (2 * r) / (n - 1)
      const inner = clip.append("g").attr("transform", `translate(${m.cx - r},${cy - r}) scale(${k})`)
      const field = resample(m.grid, n, isDiff ? 0.6 : 1)
      const tMap = d3.scaleLinear().domain(isDiff ? [-50, 50] : [0, 300]).range([0, 1])

      const bandLevels = isDiff ? d3.range(-50, 50, 4) : d3.range(0, 300, 10)
      const contours = d3.contours().size([n, n]).thresholds(bandLevels)(field)
      const path = d3.geoPath()
      inner.append("rect").attr("width", n).attr("height", n).attr("fill", jet(tMap(bandLevels[0])))
      contours.forEach((c) => {
        inner.append("path").attr("d", path(c)).attr("fill", jet(tMap(c.value + (isDiff ? 2 : 5))))
      })
      const lineLevels = isDiff ? d3.range(-16, 50, 8) : [38, 65, 100, 140, 180, 225, 270]
      d3.contours()
        .size([n, n])
        .thresholds(lineLevels)(field)
        .forEach((c) => {
          inner.append("path").attr("d", path(c)).attr("fill", "none").attr("stroke", "#111").attr("stroke-width", isDiff ? 0.55 : 0.5).attr("vector-effect", "non-scaling-stroke")
        })
      const hx = d3.scaleLinear().domain([-1, 1]).range([m.cx - r, m.cx + r])
      const hy = d3.scaleLinear().domain([-1, 1]).range([cy - r, cy + r])
      clip
        .selectAll("circle.dark")
        .data(m.dark)
        .enter()
        .append("circle")
        .attr("class", "dark")
        .attr("cx", (d) => hx(d[0]))
        .attr("cy", (d) => hy(d[1]))
        .attr("r", 1.1)
        .attr("fill", "#181818")
      clip
        .selectAll("circle.site")
        .data(m.pale)
        .enter()
        .append("circle")
        .attr("class", "site")
        .attr("cx", (d) => hx(d[0]))
        .attr("cy", (d) => hy(d[1]))
        .attr("r", 1)
        .attr("fill", "#fbeaea")
      g.append("circle").attr("cx", m.cx).attr("cy", cy).attr("r", r).attr("fill", "none").attr("stroke", "#222").attr("stroke-width", 0.9)

      // small colour bar
      const barY = idx === 8 ? 929 : 926.7
      strip(m.barX, m.barX + 49, barY, 5.8)
      const small = (s: string, x: number, y: number, size: number, fill: string) =>
        g.append("text").attr("x", x).attr("y", y).attr("text-anchor", "middle").attr("dominant-baseline", "middle").attr("font-family", open).attr("font-size", size).attr("fill", fill).text(s)
      small(isDiff ? "\u0394R" : "R", m.barX + 25, barY - 4, 7.4, "#444")
      small(isDiff ? "-0.05" : "0", m.barX + (isDiff ? 6 : 2), barY + 12, 7.8, "#777")
      small(isDiff ? "0.05" : "0.3", m.barX + (isDiff ? 44 : 45), barY + 12, 7.8, "#777")
    })
  }, [])

  return <svg ref={svgRef} width={W} height={H} style={{ position: "absolute", left: 0, top: 0 }} />
}
